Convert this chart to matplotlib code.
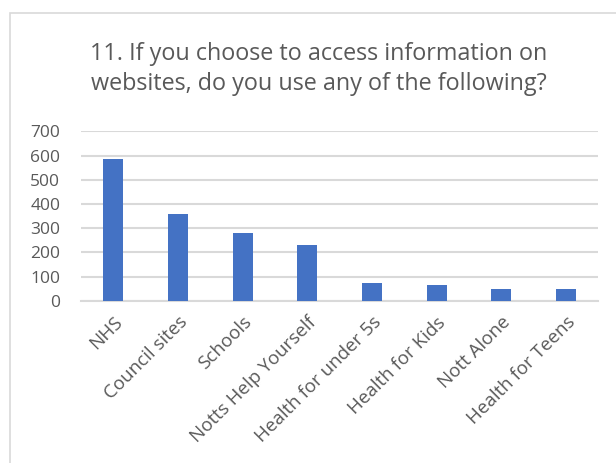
import matplotlib.pyplot as plt
from matplotlib.patches import Rectangle

categories = ['NHS', 'Council sites', 'Schools', 'Notts Help Yourself',
              'Health for under 5s', 'Health for Kids', 'Nott Alone', 'Health for Teens']
values = [586, 357, 281, 229, 74, 65, 47, 47]
yticks = [0, 100, 200, 300, 400, 500, 600, 700]

plt.rcParams['font.family'] = ['Open Sans', 'DejaVu Sans']
txt = '#595959'
grid = '#d9d9d9'

fig = plt.figure(figsize=(6.16, 4.63), dpi=100)
ax = fig.add_axes([0.1315, 0.3505, 0.8395, 0.3659])

# chart frame, runs off the right and bottom edges
fig.patches.append(Rectangle((10 / 616, -0.1), 1.0, 0.1 + 450 / 463,
                             transform=fig.transFigure, fill=False,
                             edgecolor=grid, linewidth=1.2))

x = range(len(categories))
ax.bar(x, values, width=0.31, color='#4472C4', zorder=3)

ax.set_xlim(-0.5, len(categories) - 0.5)
ax.set_ylim(0, 700)
ax.set_yticks(yticks)
ax.set_yticklabels([str(v) for v in yticks], fontsize=12.5, color=txt)
ax.yaxis.grid(True, color=grid, linewidth=1.5, zorder=0)
ax.set_axisbelow(True)
for s in ['top', 'right', 'left']:
    ax.spines[s].set_visible(False)
ax.spines['bottom'].set_color(grid)
ax.spines['bottom'].set_linewidth(1.5)
ax.tick_params(axis='both', length=0)
ax.tick_params(axis='y', pad=15)

ax.set_xticks(list(x))
ax.set_xticklabels(categories, rotation=45, ha='right', va='top',
                   rotation_mode='anchor', fontsize=13.5, color=txt)
ax.tick_params(axis='x', pad=9)

fig.text(319 / 616, 1 - 69 / 463,
         '11. If you choose to access information on\nwebsites, do you use any of the following?',
         ha='center', va='center', fontsize=16.8, color=txt, linespacing=1.35)

fig.savefig('out.png', dpi=100)
